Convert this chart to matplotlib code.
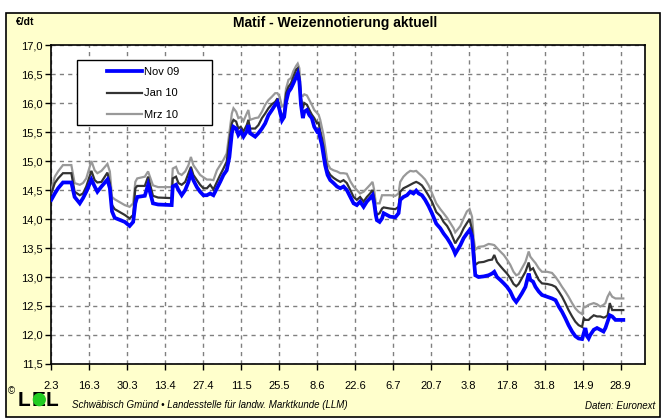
"""Matif - Weizennotierung aktuell (Nov 09 / Jan 10 / Mrz 10)."""

import datetime as dt
import numpy as np
import matplotlib
matplotlib.use('Agg')
import matplotlib.pyplot as plt
import matplotlib.patches as mpatches

plt.rcParams['font.family'] = ['Liberation Sans', 'DejaVu Sans']

# ── data: days since 2 March 2009, prices in EUR/dt ─────────────────────────
START = dt.date(2009, 3, 2)

day = [
    0.0, 1.3, 2.5, 4.3, 7.4, 8.6, 10.5, 11.7, 12.9, 14.8, 16.0, 17.0, 18.5,
    20.7, 21.6, 22.4, 23.4, 27.1, 28.9, 30.2, 31.0, 31.7, 34.5, 35.7, 37.5,
    39.4, 44.4, 44.8, 46.0, 46.9, 48.1, 49.4, 50.6, 51.5, 52.4, 53.7, 54.9,
    56.1, 57.4, 58.6, 59.8, 61.1, 62.3, 63.5, 64.7, 65.7, 66.6, 67.2, 68.2,
    69.0, 69.9, 70.9, 72.1, 72.7, 73.3, 75.2, 76.4, 77.7, 78.9, 80.1, 81.4,
    82.6, 83.4, 84.2, 85.1, 85.9, 86.6, 87.5, 88.4, 89.3, 90.3, 90.9, 91.5,
    92.1, 92.8, 93.3, 94.3, 95.2, 96.1, 97.0, 98.0, 98.6, 99.2, 99.8, 100.4,
    101.0, 101.9, 102.9, 104.1, 105.4, 106.6, 107.8, 109.0, 110.3, 111.5,
    112.7, 113.9, 115.2, 116.4, 117.6, 118.5, 119.1, 119.7, 120.1, 121.1,
    122.0, 122.6, 123.8, 125.0, 126.9, 128.1, 128.7, 129.9, 131.2, 132.4,
    133.6, 134.6, 135.5, 136.7, 137.9, 139.2, 140.4, 142.0, 143.5, 144.7,
    146.0, 147.2, 148.4, 149.0, 149.9, 150.9, 152.1, 153.3, 154.3, 155.2,
    155.8, 156.4, 157.6, 159.5, 161.3, 162.6, 163.4, 164.4, 165.6, 166.9,
    168.1, 169.3, 170.5, 171.5, 172.4, 173.6, 174.9, 176.1, 176.7, 177.7,
    178.6, 179.8, 181.0, 182.9, 184.7, 186.0, 187.2, 188.4, 189.6, 190.8,
    192.1, 193.3, 194.5, 195.8, 196.4, 197.0, 197.6, 198.2, 198.8, 200.1,
    201.3, 202.5, 203.7, 204.4, 205.2, 206.0, 206.9, 208.1, 210.0, 211.0,
]

nov09 = [
    14.33, 14.44, 14.53, 14.63, 14.63, 14.38, 14.27, 14.36, 14.47, 14.68,
    14.56, 14.47, 14.56, 14.68, 14.53, 14.13, 14.02, 13.95, 13.88, 13.95,
    14.27, 14.38, 14.40, 14.59, 14.27, 14.25, 14.24, 14.56, 14.59, 14.50,
    14.41, 14.50, 14.64, 14.79, 14.67, 14.55, 14.47, 14.41, 14.41, 14.44,
    14.41, 14.53, 14.64, 14.76, 14.84, 15.07, 15.48, 15.59, 15.56, 15.45,
    15.51, 15.42, 15.51, 15.62, 15.48, 15.42, 15.48, 15.56, 15.65, 15.79,
    15.88, 15.97, 16.02, 15.88, 15.70, 15.76, 16.02, 16.19, 16.25, 16.34,
    16.45, 16.51, 16.37, 15.97, 15.74, 15.85, 15.88, 15.79, 15.74, 15.59,
    15.51, 15.53, 15.39, 15.28, 15.10, 14.93, 14.76, 14.67, 14.62, 14.56,
    14.53, 14.56, 14.50, 14.38, 14.27, 14.24, 14.30, 14.21, 14.30, 14.36,
    14.41, 14.27, 14.07, 13.98, 13.95, 14.01, 14.10, 14.07, 14.04, 14.03,
    14.10, 14.33, 14.38, 14.41, 14.47, 14.44, 14.49, 14.44, 14.41, 14.33,
    14.22, 14.10, 13.92, 13.84, 13.75, 13.67, 13.58, 13.47, 13.40, 13.47,
    13.55, 13.67, 13.75, 13.81, 13.70, 13.35, 13.03, 13.00, 13.01, 13.03,
    13.06, 13.09, 13.00, 12.95, 12.89, 12.83, 12.75, 12.63, 12.57, 12.63,
    12.72, 12.83, 13.06, 12.95, 12.92, 12.83, 12.75, 12.69, 12.66, 12.63,
    12.60, 12.49, 12.40, 12.29, 12.17, 12.06, 11.98, 11.94, 11.93, 12.03,
    12.12, 11.98, 11.94, 12.00, 12.09, 12.12, 12.09, 12.06, 12.12, 12.23,
    12.34, 12.32, 12.26, 12.26, 12.26,
]

jan10 = [
    14.44, 14.62, 14.70, 14.79, 14.79, 14.47, 14.41, 14.44, 14.56, 14.83,
    14.67, 14.63, 14.64, 14.80, 14.62, 14.24, 14.17, 14.07, 14.01, 14.07,
    14.53, 14.57, 14.57, 14.73, 14.40, 14.37, 14.36, 14.70, 14.73, 14.62,
    14.59, 14.64, 14.79, 14.90, 14.76, 14.67, 14.59, 14.53, 14.53, 14.59,
    14.51, 14.64, 14.76, 14.87, 14.99, 15.36, 15.65, 15.71, 15.68, 15.56,
    15.59, 15.51, 15.62, 15.71, 15.56, 15.56, 15.62, 15.74, 15.82, 15.91,
    15.98, 16.02, 16.08, 15.91, 15.74, 15.85, 16.17, 16.28, 16.34, 16.45,
    16.57, 16.60, 16.45, 16.08, 15.91, 16.00, 15.97, 15.88, 15.80, 15.74,
    15.65, 15.66, 15.51, 15.40, 15.25, 15.05, 14.84, 14.76, 14.71, 14.67,
    14.64, 14.67, 14.62, 14.50, 14.38, 14.33, 14.38, 14.30, 14.38, 14.44,
    14.50, 14.36, 14.16, 14.07, 14.10, 14.18, 14.20, 14.19, 14.18, 14.17,
    14.21, 14.47, 14.53, 14.56, 14.59, 14.62, 14.64, 14.62, 14.58, 14.50,
    14.40, 14.30, 14.12, 14.05, 13.95, 13.88, 13.78, 13.65, 13.58, 13.65,
    13.72, 13.84, 13.93, 14.00, 13.81, 13.52, 13.21, 13.25, 13.26, 13.29,
    13.30, 13.38, 13.26, 13.19, 13.12, 13.06, 12.98, 12.88, 12.84, 12.88,
    12.98, 13.09, 13.25, 13.12, 13.15, 13.06, 12.95, 12.89, 12.88, 12.86,
    12.83, 12.75, 12.66, 12.55, 12.43, 12.32, 12.23, 12.17, 12.14, 12.29,
    12.26, 12.26, 12.26, 12.29, 12.34, 12.32, 12.32, 12.30, 12.31, 12.34,
    12.55, 12.43, 12.43, 12.43, 12.43,
]

mrz10 = [
    14.50, 14.73, 14.82, 14.93, 14.93, 14.62, 14.59, 14.62, 14.70, 15.00,
    14.84, 14.79, 14.83, 14.95, 14.82, 14.38, 14.34, 14.24, 14.21, 14.27,
    14.64, 14.70, 14.73, 14.82, 14.58, 14.55, 14.55, 14.87, 14.90, 14.79,
    14.76, 14.82, 14.93, 15.07, 14.93, 14.84, 14.76, 14.72, 14.68, 14.68,
    14.67, 14.84, 14.93, 15.02, 15.13, 15.50, 15.82, 15.91, 15.85, 15.74,
    15.76, 15.69, 15.82, 15.88, 15.71, 15.74, 15.75, 15.85, 15.97, 16.05,
    16.11, 16.17, 16.17, 16.11, 15.94, 15.97, 16.25, 16.40, 16.43, 16.55,
    16.64, 16.68, 16.60, 16.14, 16.12, 16.15, 16.13, 16.05, 15.97, 15.88,
    15.83, 15.80, 15.71, 15.58, 15.45, 15.25, 14.96, 14.87, 14.84, 14.82,
    14.79, 14.79, 14.78, 14.65, 14.56, 14.50, 14.44, 14.47, 14.53, 14.59,
    14.64, 14.50, 14.27, 14.27, 14.27, 14.41, 14.41, 14.41, 14.41, 14.40,
    14.44, 14.64, 14.73, 14.79, 14.83, 14.82, 14.83, 14.79, 14.74, 14.68,
    14.58, 14.45, 14.27, 14.17, 14.10, 14.02, 13.93, 13.84, 13.77, 13.82,
    13.88, 14.01, 14.13, 14.17, 14.04, 13.67, 13.47, 13.52, 13.53, 13.57,
    13.56, 13.55, 13.50, 13.44, 13.38, 13.30, 13.21, 13.09, 13.03, 13.05,
    13.15, 13.26, 13.44, 13.35, 13.29, 13.24, 13.15, 13.09, 13.09, 13.07,
    13.00, 12.92, 12.83, 12.75, 12.66, 12.55, 12.46, 12.40, 12.36, 12.49,
    12.48, 12.50, 12.52, 12.53, 12.55, 12.53, 12.49, 12.52, 12.55, 12.66,
    12.73, 12.66, 12.63, 12.63, 12.63,
]

series = [('Nov 09', nov09, '#0000FF', 2.7, 5),
          ('Jan 10', jan10, '#333333', 1.6, 4),
          ('Mrz 10', mrz10, '#999999', 1.6, 3)]

x_ticks = np.arange(0, 211, 14)
x_ticklabels = [f'{(START + dt.timedelta(days=int(d))).day}.'
                f'{(START + dt.timedelta(days=int(d))).month}' for d in x_ticks]
y_ticks = np.arange(11.5, 17.01, 0.5)

# ── figure ───────────────────────────────────────────────────────────────────
BG = '#FFFFCC'
fig = plt.figure(figsize=(6.61, 4.18), dpi=100, facecolor='white')
fig.patches.append(mpatches.Rectangle(
    (0.0098, 0.002), 0.988, 0.968, transform=fig.transFigure,
    facecolor=BG, edgecolor='black', lw=1.2, zorder=-5))

ax = fig.add_axes([0.0776, 0.1292, 0.8982, 0.7631])
ax.set_facecolor('white')

for label, vals, color, lw, z in series:
    ax.plot(day, vals, color=color, lw=lw, label=label, zorder=z,
            solid_joinstyle='miter')

ax.set_xlim(0, 219)
ax.set_ylim(11.5, 17.0)
ax.set_xticks(x_ticks)
ax.set_xticklabels(x_ticklabels)
ax.set_yticks(y_ticks)
ax.set_yticklabels([f'{v:.1f}'.replace('.', ',') for v in y_ticks])
ax.tick_params(direction='out', length=4, width=1, labelsize=8,
               colors='black', pad=2)
ax.tick_params(axis='x', pad=8)

ax.grid(True, color='#808080', ls=(0, (3, 3)), lw=1)
ax.set_axisbelow(True)
for sp in ax.spines.values():
    sp.set_linewidth(1.2)

# legend box (Excel style, wide frame)
ax.add_patch(mpatches.Rectangle((0.0438, 0.749), 0.2274, 0.204,
                                transform=ax.transAxes, facecolor='white',
                                edgecolor='black', lw=1, zorder=6))
ax.legend(loc='upper left', bbox_to_anchor=(0.0933, 0.930),
          borderaxespad=0, borderpad=0, frameon=False, fontsize=8,
          handlelength=3.2, handletextpad=0.15, labelspacing=1.0
          ).set_zorder(7)

# ── texts ────────────────────────────────────────────────────────────────────
fig.text(0.024, 0.947, '€/dt', fontsize=7.5, fontweight='bold',
         ha='left', va='center')
fig.text(0.507, 0.945, 'Matif - Weizennotierung aktuell', fontsize=10,
         fontweight='bold', ha='center', va='center')

# LEL logo
fig.text(0.012, 0.064, '©', fontsize=7, ha='left', va='center')
fig.text(0.027, 0.042, 'L', fontsize=15, fontweight='bold',
         ha='left', va='center')
fig.text(0.0472, 0.042, 'E', fontsize=15, fontweight='bold',
         ha='left', va='center')
fig.patches.append(mpatches.Ellipse((0.0595, 0.044), 0.020, 0.032,
                                    transform=fig.transFigure,
                                    facecolor='#22CC22', edgecolor='none',
                                    zorder=4))
fig.text(0.0695, 0.042, 'L', fontsize=15, fontweight='bold',
         ha='left', va='center')
fig.text(0.109, 0.031,
         'Schwäbisch Gmünd • Landesstelle für landw. Marktkunde (LLM)',
         fontsize=7, style='italic', ha='left', va='center')
fig.text(0.991, 0.028, 'Daten: Euronext', fontsize=7, style='italic',
         ha='right', va='center')

fig.savefig('out.png', dpi=100, facecolor='white')
